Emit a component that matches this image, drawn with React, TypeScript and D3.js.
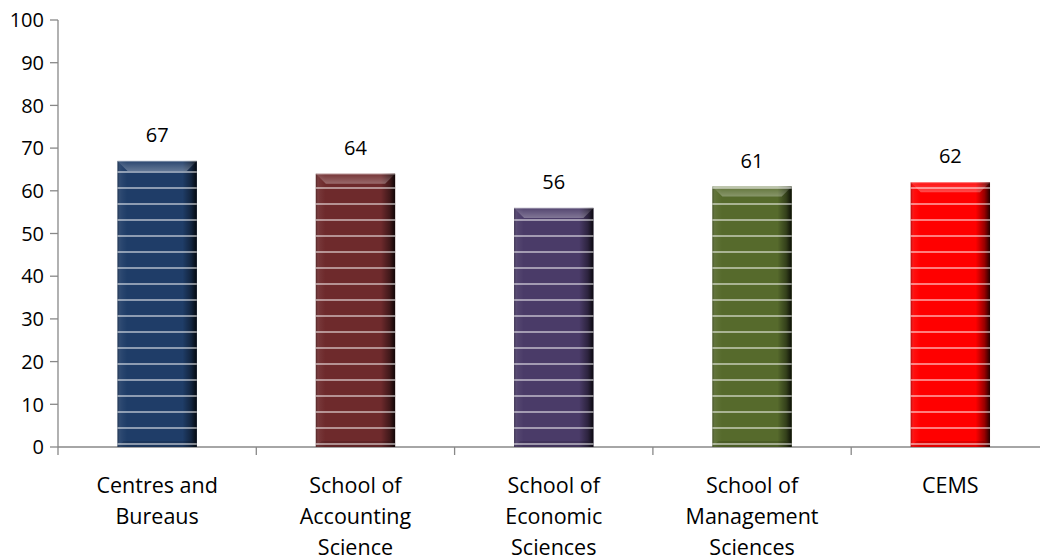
import { useEffect, useRef } from 'react';
import * as d3 from 'd3';

const categories = ['Centres and Bureaus', 'School of Accounting Science', 'School of Economic Sciences', 'School of Management Sciences', 'CEMS'];
const values = [67, 64, 56, 61, 62];
const barColors = ['#1f3d68', '#6e2a2c', '#4a3b68', '#566a2c', '#ff0000'];
const yTicks = [0, 10, 20, 30, 40, 50, 60, 70, 80, 90, 100];

const FONT = '"Open Sans", "Noto Sans", sans-serif';

export default function App() {
  const svgRef = useRef<SVGSVGElement>(null);

  useEffect(() => {
    const svg = d3.select(svgRef.current);
    svg.selectAll('*').remove();

    const W = 1040, H = 559;
    const left = 58, bottom = 447, top = 20;
    const step = 198.3;

    svg.attr('width', W).attr('height', H);

    const x = d3.scaleBand<string>()
      .domain(categories)
      .range([left, left + step * categories.length])
      .paddingInner(0.6)
      .paddingOuter(0.3);
    const y = d3.scaleLinear().domain([0, 100]).range([bottom, top]);

    const defs = svg.append('defs');

    // horizontal shading: dark rim on the right, slight dark on left
    const side = defs.append('linearGradient').attr('id', 'side').attr('x1', 0).attr('x2', 1).attr('y1', 0).attr('y2', 0);
    side.append('stop').attr('offset', '0%').attr('stop-color', '#000').attr('stop-opacity', 0.3);
    side.append('stop').attr('offset', '4%').attr('stop-color', '#fff').attr('stop-opacity', 0.06);
    side.append('stop').attr('offset', '12%').attr('stop-color', '#fff').attr('stop-opacity', 0);
    side.append('stop').attr('offset', '82%').attr('stop-color', '#000').attr('stop-opacity', 0);
    side.append('stop').attr('offset', '93%').attr('stop-color', '#000').attr('stop-opacity', 0.4);
    side.append('stop').attr('offset', '100%').attr('stop-color', '#000').attr('stop-opacity', 0.85);

    const bevel = defs.append('linearGradient').attr('id', 'bevel').attr('x1', 0).attr('x2', 0).attr('y1', 0).attr('y2', 1);
    bevel.append('stop').attr('offset', '0%').attr('stop-color', '#fff').attr('stop-opacity', 0.05);
    bevel.append('stop').attr('offset', '100%').attr('stop-color', '#fff').attr('stop-opacity', 0.3);

    // white stripes every 16px
    const pat = defs.append('pattern').attr('id', 'stripes')
      .attr('patternUnits', 'userSpaceOnUse')
      .attr('x', 0).attr('y', 0).attr('width', 16).attr('height', 16);
    pat.append('rect').attr('x', 0).attr('y', 11.25).attr('width', 16).attr('height', 1.5)
      .attr('fill', '#fff').attr('opacity', 0.65);

    // axes
    const axisColor = '#888888';
    svg.append('line')
      .attr('x1', left).attr('x2', left).attr('y1', top).attr('y2', bottom + 8)
      .attr('stroke', axisColor).attr('stroke-width', 1.3);
    svg.append('line')
      .attr('x1', left).attr('x2', W).attr('y1', bottom).attr('y2', bottom)
      .attr('stroke', axisColor).attr('stroke-width', 1.3);

    yTicks.forEach(v => {
      svg.append('line')
        .attr('x1', left - 8).attr('x2', left).attr('y1', y(v)).attr('y2', y(v))
        .attr('stroke', axisColor).attr('stroke-width', 1.3);
      svg.append('text')
        .attr('x', 44).attr('y', y(v)).attr('dy', '0.36em')
        .attr('text-anchor', 'end')
        .attr('font-family', FONT).attr('font-size', 20).attr('fill', '#000')
        .text(v);
    });

    categories.forEach((c, i) => {
      if (i === 0) return;
      const bx = (x(c) as number) - x.step() * x.paddingInner() / 2;
      svg.append('line')
        .attr('x1', bx).attr('x2', bx).attr('y1', bottom).attr('y2', bottom + 8)
        .attr('stroke', axisColor).attr('stroke-width', 1.3);
    });

    // bars
    categories.forEach((c, i) => {
      const bx = x(c) as number;
      const bw = x.bandwidth();
      const by = y(values[i]);
      const bh = bottom - by;
      const g = svg.append('g');
      g.append('rect').attr('x', bx).attr('y', by).attr('width', bw).attr('height', bh).attr('fill', barColors[i]);
      g.append('rect').attr('x', bx).attr('y', by).attr('width', bw).attr('height', bh).attr('fill', 'url(#side)');
      const b = 10;
      g.append('polygon')
        .attr('points', [[bx, by], [bx + bw, by], [bx + bw - b, by + b], [bx + b, by + b]].map(p => p.join(',')).join(' '))
        .attr('fill', 'url(#bevel)');
      g.append('polygon')
        .attr('points', [[bx, bottom], [bx + bw, bottom], [bx + bw - 6, bottom - 6], [bx + 6, bottom - 6]].map(p => p.join(',')).join(' '))
        .attr('fill', '#000').attr('opacity', 0.12);
      g.append('rect').attr('x', bx).attr('y', by).attr('width', bw).attr('height', bh).attr('fill', 'url(#stripes)');
      g.append('line').attr('x1', bx).attr('x2', bx + bw).attr('y1', by + 0.5).attr('y2', by + 0.5)
        .attr('stroke', '#fff').attr('stroke-opacity', 0.35);

      svg.append('text')
        .attr('x', bx + bw / 2).attr('y', by - 19)
        .attr('text-anchor', 'middle')
        .attr('font-family', FONT).attr('font-size', 20).attr('fill', '#000')
        .text(values[i]);
    });

    // category labels, wrapped
    categories.forEach(c => {
      const cx = (x(c) as number) + x.bandwidth() / 2;
      const t = svg.append('text')
        .attr('x', cx).attr('y', 493)
        .attr('text-anchor', 'middle')
        .attr('font-family', FONT).attr('font-size', 21.5).attr('fill', '#000');
      const words = c.split(' ');
      let line: string[] = [];
      let lineNo = 0;
      let tspan = t.append('tspan').attr('x', cx).attr('y', 493);
      words.forEach(w => {
        line.push(w);
        tspan.text(line.join(' '));
        if ((tspan.node() as SVGTSpanElement).getComputedTextLength() > 155 && line.length > 1) {
          line.pop();
          tspan.text(line.join(' '));
          line = [w];
          lineNo++;
          tspan = t.append('tspan').attr('x', cx).attr('y', 493 + lineNo * 31).text(w);
        }
      });
    });
  }, []);

  return <svg ref={svgRef} style={{ position: 'absolute', left: 0, top: 0, background: '#fff' }} />;
}
